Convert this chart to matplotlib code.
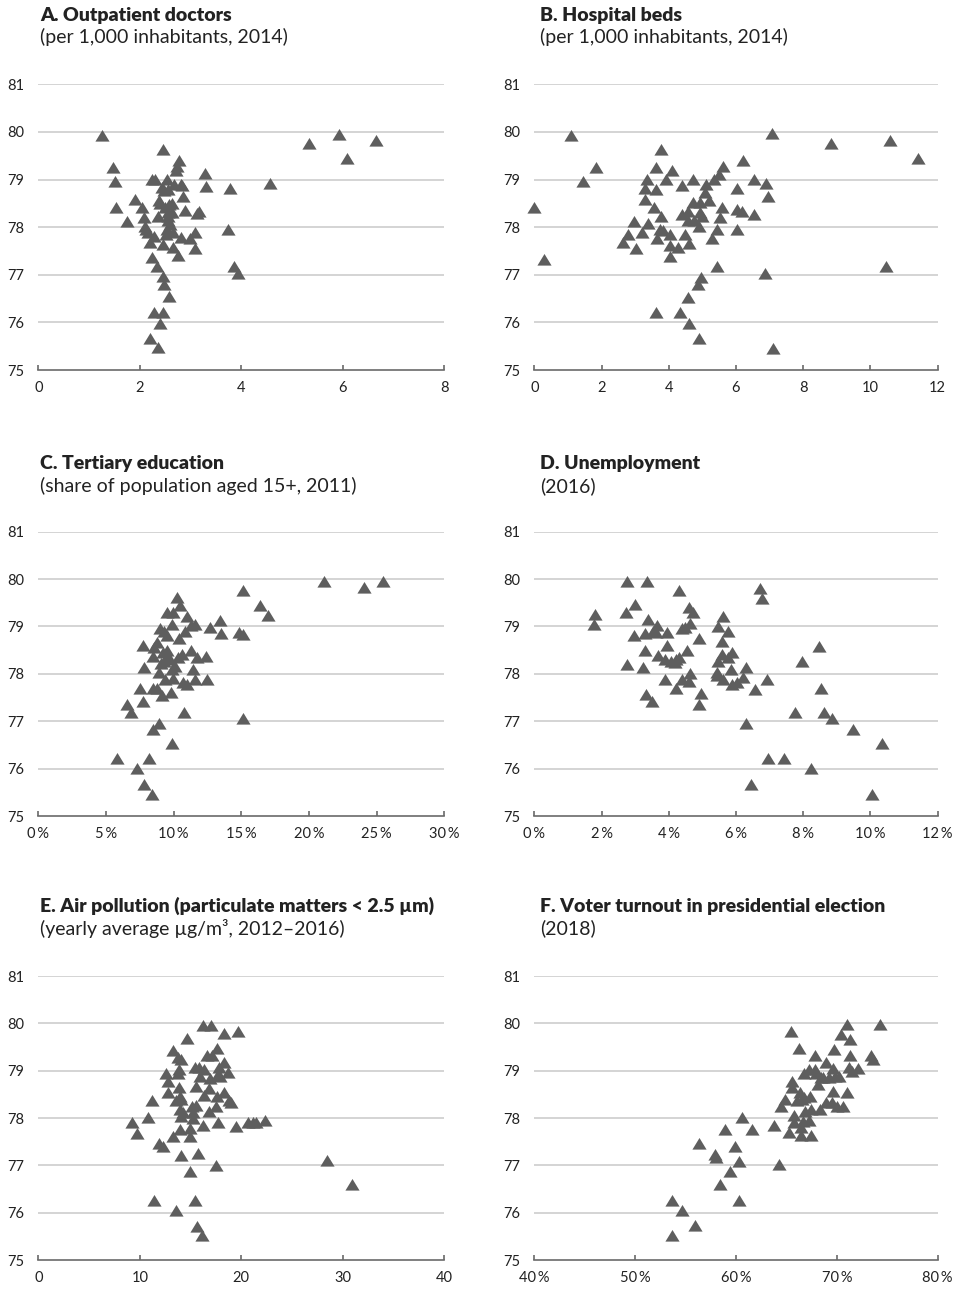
import matplotlib
matplotlib.use('Agg')
import matplotlib.pyplot as plt
from matplotlib.ticker import FuncFormatter, MultipleLocator

plt.rcParams['font.family'] = ['Lato', 'DejaVu Sans']

# ── data (x value, life expectancy) ──────────────────────────────────────────
a_x = [1.26, 1.48, 1.51, 1.53, 1.75, 1.91, 2.04, 2.08, 2.10, 2.12, 2.17, 2.20, 2.27, 2.24,
       2.33, 2.46, 2.47, 2.58, 2.27, 2.46, 2.40, 2.20, 2.36, 2.25, 2.30, 2.46, 2.38, 2.40,
       2.36, 2.44, 2.54, 2.56, 2.48, 2.58, 2.64, 2.56, 2.63, 2.56, 2.56, 2.53, 2.52, 2.66,
       2.46, 2.66, 2.76, 2.71, 2.73, 2.78, 2.67, 2.84, 2.86, 2.82, 2.89, 3.12, 3.17, 2.82,
       2.99, 3.09, 3.09, 3.28, 3.30, 3.77, 3.74, 3.86, 3.93, 4.56, 5.33, 5.92, 6.08, 6.65,
       2.60, 2.50]
a_y = [79.92, 79.24, 78.94, 78.40, 78.10, 78.57, 78.40, 78.19, 78.00, 77.95, 77.87, 77.66,
       77.80, 77.35, 77.17, 76.96, 76.79, 76.54, 76.19, 76.19, 75.97, 75.65, 75.46, 78.99,
       78.99, 79.61, 78.54, 78.48, 78.22, 78.83, 78.99, 78.78, 78.76, 78.47, 78.49, 78.29,
       78.29, 78.22, 78.12, 77.94, 77.84, 77.87, 77.63, 77.56, 77.39, 79.17, 79.27, 79.38,
       78.88, 78.87, 78.64, 78.89, 78.34, 78.28, 78.31, 77.77, 77.75, 77.87, 77.54, 79.11,
       78.84, 78.80, 77.93, 77.17, 77.02, 78.91, 79.75, 79.94, 79.44, 79.81, 78.05, 78.40]

b_x = [0.00, 0.30, 1.09, 1.44, 1.85, 2.63, 2.78, 2.97, 3.04, 3.21, 3.39, 3.29, 3.28, 3.34,
       3.62, 3.62, 3.56, 3.77, 3.77, 3.92, 4.09, 4.38, 4.73, 3.64, 3.74, 3.84, 4.05, 4.04,
       4.05, 4.27, 4.48, 4.61, 4.38, 4.58, 4.58, 4.73, 4.75, 4.93, 4.93, 4.98, 4.91, 5.11,
       5.08, 5.21, 5.36, 5.50, 5.62, 5.57, 5.52, 5.44, 5.30, 6.04, 6.20, 6.04, 6.17, 6.04,
       6.53, 6.53, 6.89, 6.96, 7.06, 6.86, 7.11, 5.43, 4.96, 4.88, 4.58, 4.33, 4.61, 4.91,
       3.62, 8.82, 10.58, 11.40, 10.46]
b_y = [78.40, 77.32, 79.92, 78.94, 79.24, 77.66, 77.84, 78.10, 77.54, 77.87, 78.07, 78.57,
       78.80, 78.99, 79.24, 78.77, 78.40, 78.21, 79.61, 78.99, 79.17, 78.87, 78.98, 77.75,
       77.94, 77.91, 77.84, 77.61, 77.38, 77.56, 77.84, 77.65, 78.26, 78.31, 78.12, 78.50,
       78.12, 78.50, 78.29, 78.22, 78.00, 78.89, 78.71, 78.54, 78.98, 79.10, 79.27, 78.40,
       78.19, 77.94, 77.75, 78.80, 79.38, 78.35, 78.31, 77.94, 78.98, 78.26, 78.91, 78.63,
       79.95, 77.02, 75.44, 77.16, 76.93, 76.79, 76.52, 76.19, 75.97, 75.65, 76.19, 79.75,
       79.81, 79.44, 77.16]

c_x = [21.1, 24.1, 25.5, 15.1, 16.4, 17.0, 13.4, 13.5, 12.7, 14.8, 15.1, 12.4, 12.5, 15.1,
       10.8, 9.85, 8.94, 8.45, 5.84, 8.20, 7.27, 7.81, 8.37, 6.53, 6.82, 7.76, 7.51, 8.50,
       8.74, 9.16, 9.78, 7.81, 7.76, 8.55, 8.74, 8.50, 8.94, 9.36, 9.98, 10.7, 10.96, 11.6,
       11.4, 11.7, 11.25, 10.6, 10.34, 9.73, 9.29, 9.24, 9.53, 9.85, 9.48, 8.99, 9.29, 9.85,
       9.53, 9.98, 9.48, 10.47, 10.27, 10.96, 11.6, 10.83, 10.4, 11.25, 9.10, 10.10]
c_y = [79.94, 79.82, 79.94, 79.75, 79.44, 79.23, 79.12, 78.85, 78.96, 78.87, 78.82, 78.36,
       77.86, 77.04, 77.18, 76.53, 76.94, 76.81, 76.20, 76.20, 75.99, 75.65, 75.44, 77.34,
       77.18, 77.41, 77.69, 77.67, 77.67, 77.53, 77.59, 78.12, 78.59, 78.54, 78.66, 78.36,
       78.01, 77.87, 77.90, 77.80, 77.76, 77.87, 78.08, 78.33, 78.49, 78.40, 78.33, 78.29,
       78.26, 78.43, 78.49, 78.08, 78.36, 78.94, 78.89, 79.03, 79.28, 79.28, 78.80, 79.43,
       79.61, 79.21, 79.03, 78.89, 78.73, 79.01, 78.20, 78.15]

d_x = [1.81, 1.77, 2.77, 3.34, 2.72, 3.00, 2.97, 2.77, 3.24, 3.29, 3.29, 3.39, 3.64, 3.54,
       3.62, 3.96, 3.69, 3.96, 3.89, 4.06, 4.23, 4.31, 4.19, 3.89, 4.23, 4.38, 4.61, 4.63,
       4.53, 4.31, 4.38, 4.48, 4.63, 4.61, 4.73, 4.90, 4.95, 4.90, 3.31, 3.49, 5.47, 5.62,
       5.57, 5.75, 5.57, 5.47, 5.42, 5.42, 5.60, 5.77, 5.87, 5.84, 5.87, 6.02, 6.22, 6.29,
       6.56, 6.93, 6.71, 6.76, 6.29, 6.96, 7.43, 6.44, 7.76, 7.96, 8.48, 8.52, 8.62, 8.85,
       9.49, 10.33, 10.06, 8.23]
d_y = [79.24, 79.03, 79.94, 79.94, 79.28, 79.45, 78.80, 78.19, 78.12, 78.49, 78.84, 79.14,
       79.01, 78.89, 78.87, 78.87, 78.38, 78.59, 78.29, 78.26, 78.29, 78.33, 78.22, 77.87,
       77.69, 77.88, 77.83, 77.99, 78.49, 79.75, 78.94, 78.96, 79.05, 79.38, 79.28, 78.73,
       77.57, 77.34, 77.55, 77.41, 78.99, 79.20, 78.68, 78.89, 78.40, 78.26, 78.01, 77.95,
       77.87, 78.33, 78.43, 78.08, 77.76, 77.80, 77.91, 78.12, 77.66, 77.88, 79.80, 79.59,
       76.94, 76.20, 76.20, 75.65, 77.18, 78.26, 78.56, 77.69, 77.18, 77.04, 76.81, 76.53,
       75.44, 76.00]

e_x = [9.26, 9.75, 10.84, 11.17, 11.40, 11.92, 12.31, 12.54, 12.81, 12.74, 13.30, 13.79,
       14.10, 13.90, 13.79, 13.89, 13.96, 13.60, 14.10, 13.96, 14.29, 14.10, 14.62, 13.30,
       14.00, 14.94, 14.94, 14.10, 14.94, 13.53, 15.44, 15.60, 16.16, 15.70, 17.50, 16.19,
       16.98, 18.29, 19.67, 17.64, 16.60, 17.08, 15.44, 15.83, 16.36, 15.93, 16.90, 17.74,
       17.83, 18.29, 18.70, 17.90, 15.50, 16.85, 16.32, 18.29, 17.64, 18.95, 18.80, 17.50,
       16.85, 15.50, 15.11, 15.27, 15.27, 16.19, 17.74, 19.47, 20.70, 21.44, 21.20, 22.33,
       28.47, 30.87]
e_y = [77.90, 77.66, 78.01, 78.35, 76.25, 77.46, 77.39, 78.93, 78.77, 78.52, 79.42, 79.26,
       79.23, 79.01, 78.93, 78.63, 78.45, 78.35, 78.38, 78.17, 78.10, 78.03, 79.66, 77.59,
       77.75, 77.76, 77.59, 77.20, 76.85, 76.04, 76.25, 75.70, 75.51, 77.24, 76.99, 79.94,
       79.94, 79.77, 79.82, 79.45, 79.30, 79.30, 79.05, 79.05, 79.01, 78.87, 78.82, 78.91,
       79.05, 79.17, 78.96, 78.87, 78.66, 78.61, 78.46, 78.52, 78.44, 78.32, 78.36, 78.23,
       78.13, 78.25, 78.24, 78.10, 77.97, 77.83, 77.90, 77.80, 77.90, 77.90, 77.90, 77.94,
       77.10, 76.58]

f_x = [53.7, 53.7, 54.6, 55.9, 56.3, 57.9, 58.0, 58.4, 58.9, 59.4, 59.9, 60.3, 60.3, 60.6,
       61.6, 63.8, 64.3, 64.5, 64.9, 65.3, 65.5, 66.2, 65.6, 65.6, 65.8, 65.8, 66.3, 66.0,
       66.5, 66.4, 66.4, 66.6, 66.8, 66.7, 67.2, 67.4, 67.4, 67.3, 66.7, 67.2, 67.8, 67.8,
       68.1, 68.3, 68.4, 68.9, 68.9, 69.2, 69.7, 69.6, 69.6, 69.8, 70.2, 69.5, 70.0, 70.6,
       70.4, 71.0, 71.3, 71.3, 71.2, 71.5, 72.1, 71.0, 73.4, 73.6, 74.3, 68.6, 67.9]
f_y = [75.51, 76.25, 76.04, 75.72, 77.46, 77.22, 77.16, 76.58, 77.75, 76.85, 77.39, 77.08,
       76.25, 77.99, 77.75, 77.83, 77.01, 78.24, 78.38, 77.68, 79.82, 79.45, 78.77, 78.63,
       78.04, 77.89, 78.52, 78.35, 78.38, 77.78, 77.61, 77.92, 78.13, 78.42, 77.94, 78.17,
       77.61, 78.45, 78.94, 79.01, 79.01, 79.30, 78.70, 78.17, 78.84, 79.17, 78.31, 78.84,
       79.44, 79.03, 78.54, 78.87, 78.87, 78.32, 78.24, 78.24, 79.75, 79.96, 79.65, 79.30,
       79.05, 78.98, 79.03, 78.52, 79.30, 79.23, 79.96, 78.84, 78.94]

titles = ['A. Outpatient doctors', 'B. Hospital beds', 'C. Tertiary education',
          'D. Unemployment', 'E. Air pollution (particulate matters < 2.5 µm)',
          'F. Voter turnout in presidential election']
subtitles = ['(per 1,000 inhabitants, 2014)', '(per 1,000 inhabitants, 2014)',
             '(share of population aged 15+, 2011)', '(2016)',
             '(yearly average µg/m³, 2012–2016)', '(2018)']
xlims = [(0, 8), (0, 12), (0, 30), (0, 12), (0, 40), (40, 80)]
xsteps = [2, 2, 5, 2, 10, 10]
is_pct = [False, False, True, True, False, True]
series = [(a_x, a_y), (b_x, b_y), (c_x, c_y), (d_x, d_y), (e_x, e_y), (f_x, f_y)]

# ── layout (pixels) ──────────────────────────────────────────────────────────
W, H = 961, 1290
MARK = '#5e5e5e'
GRID = '#c9c9c9'
AXC = '#6a6a6a'
TXT = '#222222'
tri = [(-0.5, -0.36), (0.5, -0.36), (0.0, 0.46)]

col_left = [38.3, 534.3]
col_w = [406, 403.4]
row_top = [84.3, 531.7, 976]
row_h = [285.7, 284.3, 284]
title_base = [20.5, 469.5, 912]

fig = plt.figure(figsize=(W / 100, H / 100), dpi=100)

for i, (xs, ys) in enumerate(series):
    r, c = divmod(i, 2)
    left, width = col_left[c], col_w[c]
    top, height = row_top[r], row_h[r]
    ax = fig.add_axes([left / W, 1 - (top + height) / H, width / W, height / H])
    ax.scatter(xs, ys, marker=tri, s=10.2 ** 2, color=MARK, linewidths=0,
               zorder=3, clip_on=False)
    ax.set_xlim(*xlims[i])
    ax.set_ylim(75, 81)
    ax.set_yticks(range(75, 82))
    ax.xaxis.set_major_locator(MultipleLocator(xsteps[i]))
    if is_pct[i]:
        ax.xaxis.set_major_formatter(FuncFormatter(lambda v, p: f'{v:.0f}\u2009%'))
    else:
        ax.xaxis.set_major_formatter(FuncFormatter(lambda v, p: f'{v:.0f}'))
    for s in ['top', 'right', 'left']:
        ax.spines[s].set_visible(False)
    ax.spines['bottom'].set_color(AXC)
    ax.spines['bottom'].set_linewidth(1.2)
    for yv in range(76, 82):
        ax.axhline(yv, color=GRID, lw=1.1, zorder=1)
    ax.tick_params(axis='y', length=0, pad=10, labelsize=10.5, labelcolor=TXT)
    ax.tick_params(axis='x', direction='in', length=3.5, width=1.2, color=AXC,
                   pad=8, labelsize=10.5, labelcolor=TXT)
    for lbl in ax.get_yticklabels():
        lbl.set_horizontalalignment('right')

    tx = (left + 2) / W if c == 0 else (left + 6) / W
    fig.text(tx, 1 - title_base[r] / H, titles[i], fontsize=14, fontweight='heavy',
             color=TXT, va='baseline', ha='left')
    fig.text(tx, 1 - (title_base[r] + 22.5) / H, subtitles[i], fontsize=14,
             color=TXT, va='baseline', ha='left')

fig.savefig('out.png', dpi=100)
print('Saved out.png')
